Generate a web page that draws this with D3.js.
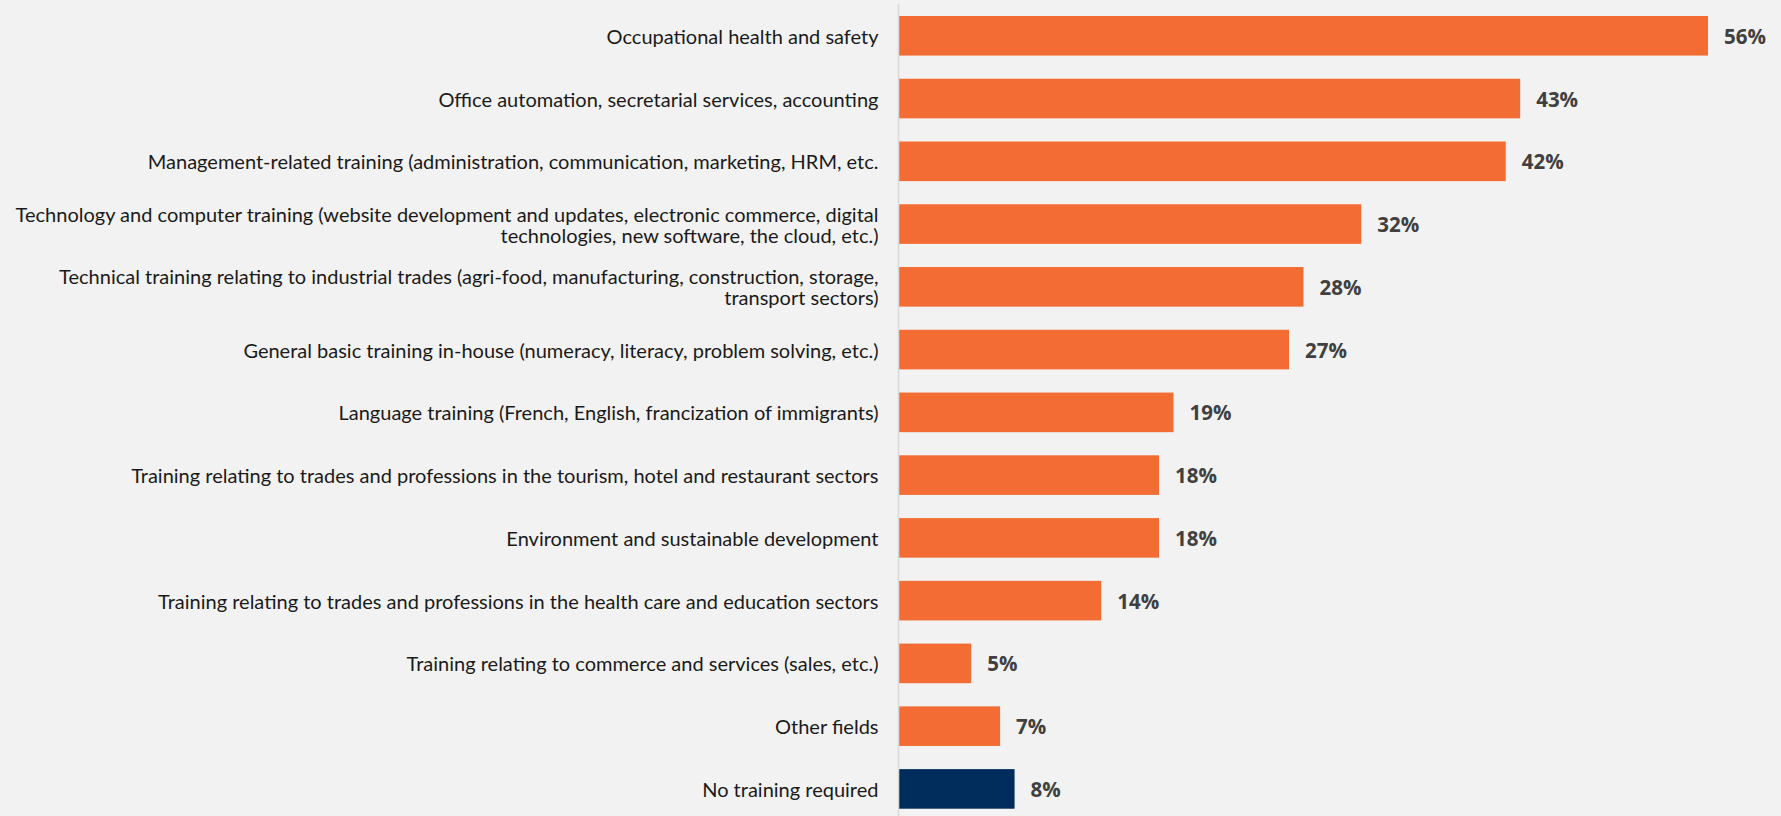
<!DOCTYPE html>
<html>
<head>
<meta charset="utf-8">
<script src="https://cdn.jsdelivr.net/npm/d3@7"></script>
<style>
  html, body { margin: 0; padding: 0; background: #f2f2f2; }
  svg { display: block; }
</style>
</head>
<body>
<svg id="chart" width="1781" height="816"></svg>
<script>
// Fields of training needed (share of respondents, %)
const categories = [
  "Occupational health and safety",
  "Office automation, secretarial services, accounting",
  "Management-related training (administration, communication, marketing, HRM, etc.",
  "Technology and computer training (website development and updates, electronic commerce, digital\ntechnologies, new software, the cloud, etc.)",
  "Technical training relating to industrial trades (agri-food, manufacturing, construction, storage,\ntransport sectors)",
  "General basic training in-house (numeracy, literacy, problem solving, etc.)",
  "Language training (French, English, francization of immigrants)",
  "Training relating to trades and professions in the tourism, hotel and restaurant sectors",
  "Environment and sustainable development",
  "Training relating to trades and professions in the health care and education sectors",
  "Training relating to commerce and services (sales, etc.)",
  "Other fields",
  "No training required"
];
const values = [56, 43, 42, 32, 28, 27, 19, 18, 18, 14, 5, 7, 8];
// the last row is highlighted in navy
const highlighted = ["No training required"];

const W = 1781, H = 816;
const axisX = 899;
const svg = d3.select("#chart");

svg.append("rect").attr("width", W).attr("height", H).attr("fill", "#f2f2f2");

const x = d3.scaleLinear().domain([0, 60]).range([axisX, axisX + 60 * 14.446]);
const y = d3.scaleBand().domain(categories).range([4.4, 820.3])
  .paddingInner(0.369).paddingOuter(0.1845);

// bars
svg.append("g").selectAll("rect")
  .data(categories)
  .join("rect")
  .attr("x", x(0))
  .attr("y", d => y(d))
  .attr("width", (d, i) => x(values[i]) - x(0))
  .attr("height", y.bandwidth())
  .attr("fill", d => highlighted.includes(d) ? "#002d5b" : "#f36c34");

// category axis (left), labels right-aligned
const yAxis = d3.axisLeft(y).tickSize(0).tickPadding(20).tickFormat("");
const gAxis = svg.append("g").attr("transform", `translate(${axisX - 0.5},0)`).call(yAxis);
gAxis.select(".domain").attr("stroke", "#d9d9d9").attr("stroke-width", 1.6)
  .attr("d", `M0,4V${H}`);

const labelFont = "Lato, 'Open Sans', sans-serif";
const lineH = 21;
gAxis.selectAll(".tick").each(function (d) {
  const t = d3.select(this).select("text");
  const lines = d.split("\n");
  t.text(null)
    .attr("x", -20)
    .attr("dy", null)
    .attr("fill", "#1a1a1a")
    .style("font-family", labelFont)
    .style("font-size", "20px")
    .attr("text-anchor", "end")
    .attr("dominant-baseline", "central");
  lines.forEach((ln, k) => {
    t.append("tspan")
      .attr("x", -20)
      .attr("y", (k - (lines.length - 1) / 2) * lineH)
      .text(ln);
  });
});

// value labels
svg.append("g").selectAll("text")
  .data(categories)
  .join("text")
  .attr("x", (d, i) => x(values[i]) + 16)
  .attr("y", d => y(d) + y.bandwidth() / 2)
  .attr("dominant-baseline", "central")
  .attr("fill", "#404040")
  .style("font-family", "'Open Sans', sans-serif")
  .style("font-weight", "bold")
  .style("font-size", "20.5px")
  .text((d, i) => values[i] + "%");
</script>
</body>
</html>
